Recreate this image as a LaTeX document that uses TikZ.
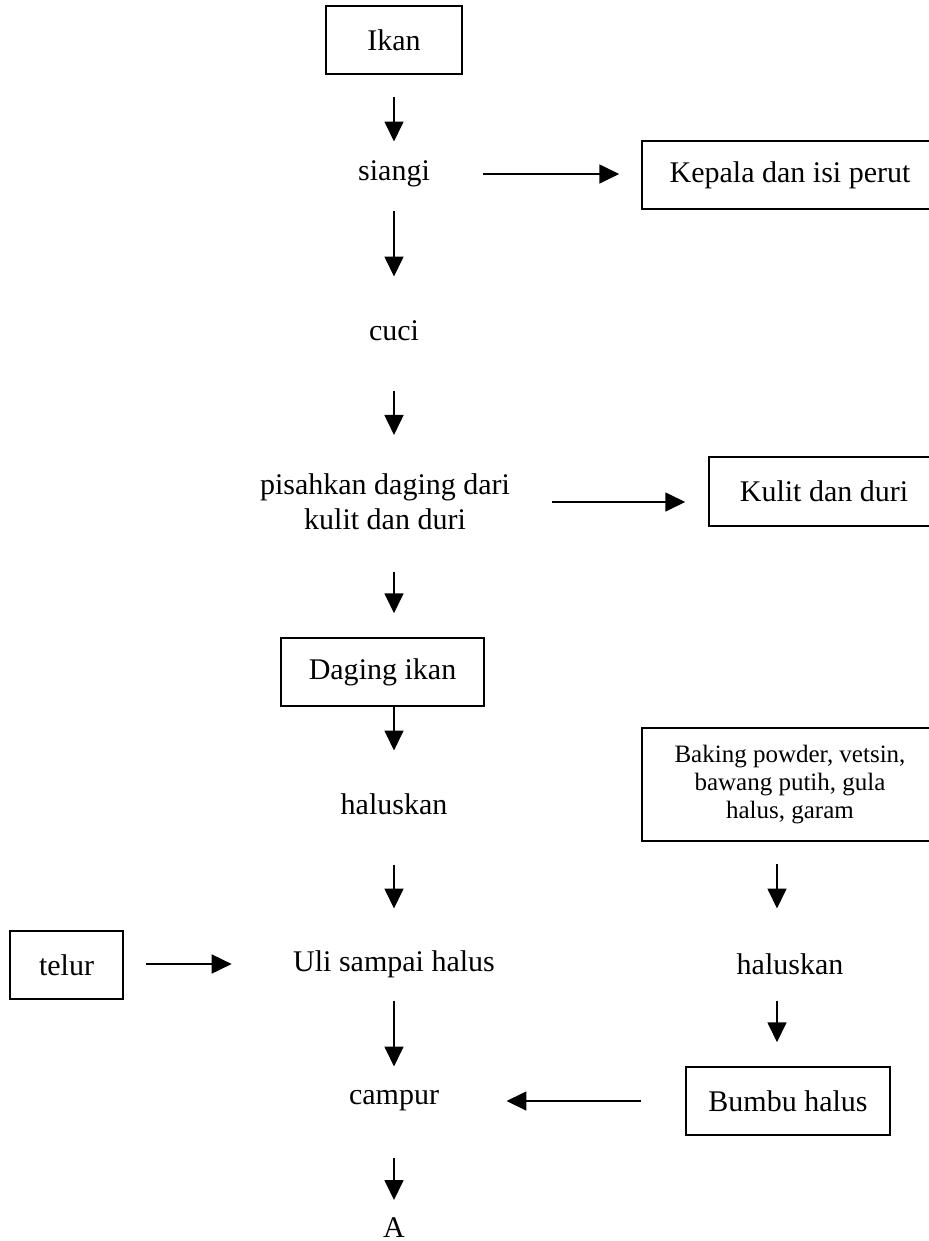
\documentclass[tikz,border=0pt]{standalone}
\usepackage{fontspec}
\setmainfont{Liberation Serif}
\usetikzlibrary{arrows.meta,positioning}

\tikzset{
  kotak/.style={draw, line width=0.6pt, inner sep=0pt, align=center},
  proses/.style={inner sep=0pt, minimum height=12pt, align=center},
  panah/.style={-{Triangle[length=8pt,width=7.6pt]}, line width=0.7pt},
}

\begin{document}
\begin{tikzpicture}[x=0.4pt, y=-0.4pt, font=\fontsize{12}{14}\selectfont]
    \useasboundingbox (0,0) rectangle (928,1241);

    % Nodes
    \node[kotak, minimum width=54.4pt, minimum height=27.2pt] (ikan) at (394,40) {Ikan};
    \node[proses] (siangi) at (394,174) {siangi};
    \node[kotak, minimum width=118.4pt, minimum height=27.2pt] (kepala) at (790,175) {Kepala dan isi perut};
    \node[proses] (cuci) at (394,331) {cuci};
    \node[proses] (pisah) at (385,502) {pisahkan daging dari\\kulit dan duri};
    \node[kotak, minimum width=92pt, minimum height=27.6pt] (kulit) at (824,491.5) {Kulit dan duri};
    \node[kotak, minimum width=81.2pt, minimum height=27.2pt] (daging) at (382.5,672) {Daging ikan};
    \node[proses] (haluskan) at (394,804) {haluskan};
    \node[kotak, minimum width=118.4pt, minimum height=45.2pt, font=\fontsize{10}{11.2}\selectfont] (bumbu) at (790,784.5) {Baking powder, vetsin,\\bawang putih, gula\\halus, garam};
    \node[kotak, minimum width=45.2pt, minimum height=27.2pt] (telur) at (66.5,965) {telur};
    \node[proses] (uli) at (394,964) {Uli sampai halus};
    \node[proses] (haluskanb) at (790,964) {haluskan};
    \node[kotak, minimum width=81.6pt, minimum height=27.2pt] (halus) at (788,1101) {Bumbu halus};
    \node[proses] (campur) at (394,1101) {campur};
    \node[proses] (A) at (394,1228) {A};
    \coordinate (kanan) at (777,0);

    % Edges
    \draw[panah, shorten <=8.8pt, shorten >=6.8pt] (ikan) -- (siangi);
    \draw[panah, shorten <=21.2pt, shorten >=8.8pt] (siangi) -- (siangi -| kepala.west);
    \draw[panah, shorten <=8.4pt, shorten >=15.6pt] (siangi) -- (cuci);
    \draw[panah, shorten <=17.6pt, shorten >=15.4pt] (cuci) -- (cuci |- pisah.north);
    \draw[panah, shorten <=16.8pt, shorten >=9.2pt] (pisah) -- (pisah -| kulit.west);
    \draw[panah, shorten <=16.4pt, shorten >=9.6pt] (pisah.south -| ikan) -- (daging.north -| ikan);
    \draw[panah, shorten >=15.2pt] (daging.south -| ikan) -- (haluskan);
    \draw[panah, shorten <=18pt, shorten >=16pt] (haluskan) -- (uli);
    \draw[panah, shorten <=8.8pt, shorten >=24.4pt] (telur.east |- uli) -- (uli);
    \draw[panah, shorten <=8.4pt, shorten >=7.6pt] (uli) -- (campur);
    \draw[panah, shorten <=8.8pt, shorten >=16pt] (bumbu.south -| kanan) -- (haluskanb.north -| kanan);
    \draw[panah, shorten <=8.4pt, shorten >=9.6pt] (haluskanb.south -| kanan) -- (halus.north -| kanan);
    \draw[panah, shorten <=17.6pt, shorten >=26.8pt] (halus.west) -- (campur);
    \draw[panah, shorten <=16.4pt, shorten >=5pt] (campur) -- (A);
\end{tikzpicture}
\end{document}
